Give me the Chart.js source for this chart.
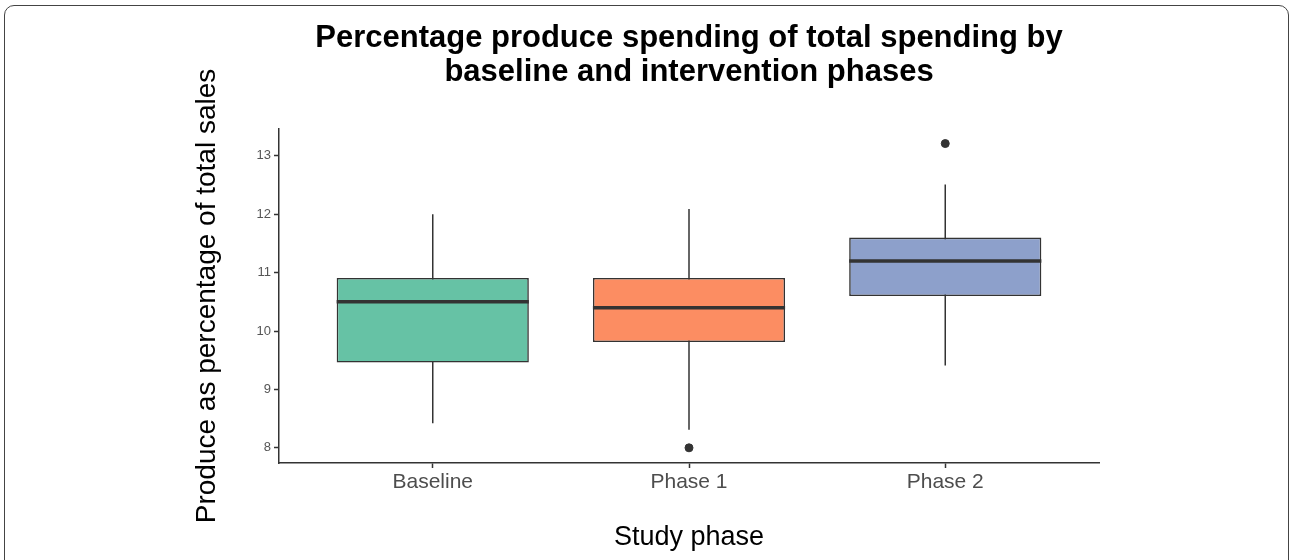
<!DOCTYPE html>
<html>
<head>
<meta charset="utf-8">
<script src="https://cdn.jsdelivr.net/npm/chart.js@4.4.1/dist/chart.umd.min.js"></script>
<style>
  body { margin: 0; background: #fff; overflow: hidden; }
  #wrap { position: relative; width: 1290px; height: 560px; }
  #frame {
    position: absolute; left: 4px; top: 5px; width: 1285px; height: 620px;
    border: 1px solid #444; border-radius: 10px; box-sizing: border-box;
    pointer-events: none;
  }
  canvas { position: absolute; left: 0; top: 0; }
</style>
</head>
<body>
<div id="wrap">
  <canvas id="boxChart" width="1290" height="560"></canvas>
  <div id="frame"></div>
</div>
<script>
// Box plot values
const phases = ['Baseline', 'Phase 1', 'Phase 2'];
const q1 = [9.46, 9.81, 10.6];
const median = [10.5, 10.4, 11.2];
const q3 = [10.91, 10.91, 11.6];
const whiskerLow = [8.42, 8.31, 9.41];
const whiskerHigh = [12.0, 12.09, 12.51];
const outliers = [[], [8.0], [13.21]];
const yTicks = [8, 9, 10, 11, 12, 13];
const boxColors = ['#66C2A5', '#FC8D62', '#8DA0CB'];

const darkLine = '#333333';

// whiskers behind boxes, medians on top
const boxPlotLines = {
    id: 'boxPlotLines',
    beforeDatasetsDraw(chart) {
        const ctx = chart.ctx;
        const x = chart.scales.x, y = chart.scales.y;
        ctx.save();
        ctx.strokeStyle = darkLine;
        ctx.lineWidth = 1.5;
        phases.forEach((p, i) => {
            const px = x.getPixelForValue(i + 1);
            ctx.beginPath();
            ctx.moveTo(px, y.getPixelForValue(whiskerHigh[i]));
            ctx.lineTo(px, y.getPixelForValue(whiskerLow[i]));
            ctx.stroke();
        });
        ctx.restore();
    },
    afterDatasetsDraw(chart) {
        const ctx = chart.ctx;
        const y = chart.scales.y;
        const bars = chart.getDatasetMeta(0).data;
        ctx.save();
        ctx.strokeStyle = darkLine;
        ctx.lineWidth = 3.5;
        bars.forEach((bar, i) => {
            const half = bar.width / 2;
            const py = y.getPixelForValue(median[i]);
            ctx.beginPath();
            ctx.moveTo(bar.x - half, py);
            ctx.lineTo(bar.x + half, py);
            ctx.stroke();
        });
        ctx.restore();
    }
};

const outlierPoints = [];
outliers.forEach((list, i) => list.forEach(v => outlierPoints.push({ x: i + 1, y: v })));

new Chart(document.getElementById('boxChart').getContext('2d'), {
    type: 'bar',
    data: {
        datasets: [{
            type: 'bar',
            data: phases.map((p, i) => ({ x: i + 1, y: [q1[i], q3[i]] })),
            backgroundColor: boxColors,
            borderColor: darkLine,
            borderWidth: 1.6,
            borderSkipped: false,
            barPercentage: 0.75,
            categoryPercentage: 1
        }, {
            type: 'scatter',
            data: outlierPoints,
            backgroundColor: darkLine,
            borderColor: darkLine,
            pointRadius: 4
        }]
    },
    options: {
        responsive: false,
        animation: false,
        layout: { padding: { left: 190, right: 191, top: 0, bottom: 0 } },
        plugins: {
            legend: { display: false },
            tooltip: { enabled: false },
            title: {
                display: true,
                fullSize: false,
                text: ['Percentage produce spending of total spending by', 'baseline and intervention phases'],
                color: '#000',
                font: { family: 'Liberation Sans, Arial, sans-serif', size: 31, weight: 'bold', lineHeight: 1.08 },
                padding: { top: 22, bottom: 40 }
            }
        },
        scales: {
            x: {
                type: 'linear',
                offset: false,
                min: 0.4,
                max: 3.6,
                afterBuildTicks: (scale) => { scale.ticks = phases.map((p, i) => ({ value: i + 1 })); },
                afterFit: (scale) => { scale.height = 97; },
                border: { color: darkLine, width: 1.5 },
                grid: { offset: false, drawOnChartArea: false, drawTicks: true, tickLength: 5, tickColor: darkLine, tickWidth: 1.5 },
                ticks: {
                    color: '#4d4d4d',
                    font: { family: 'Liberation Sans, Arial, sans-serif', size: 21 },
                    padding: 2,
                    maxRotation: 0,
                    callback: (v) => phases[v - 1]
                },
                title: {
                    display: true,
                    text: 'Study phase',
                    color: '#000',
                    font: { family: 'Liberation Sans, Arial, sans-serif', size: 27 },
                    padding: { top: 0, bottom: 6 }
                }
            },
            y: {
                min: 7.74,
                max: 13.46,
                afterBuildTicks: (scale) => { scale.ticks = yTicks.map(v => ({ value: v })); },
                afterFit: (scale) => { scale.width = 89; },
                border: { color: darkLine, width: 1.5 },
                grid: { drawOnChartArea: false, drawTicks: true, tickLength: 5, tickColor: darkLine, tickWidth: 1.5 },
                ticks: {
                    color: '#555555',
                    font: { family: 'Liberation Sans, Arial, sans-serif', size: 13 },
                    padding: 3
                },
                title: {
                    display: true,
                    text: 'Produce as percentage of total sales',
                    color: '#000',
                    font: { family: 'Liberation Sans, Arial, sans-serif', size: 28 },
                    padding: { top: 0, bottom: 0 }
                }
            }
        }
    },
    plugins: [boxPlotLines]
});
</script>
</body>
</html>
